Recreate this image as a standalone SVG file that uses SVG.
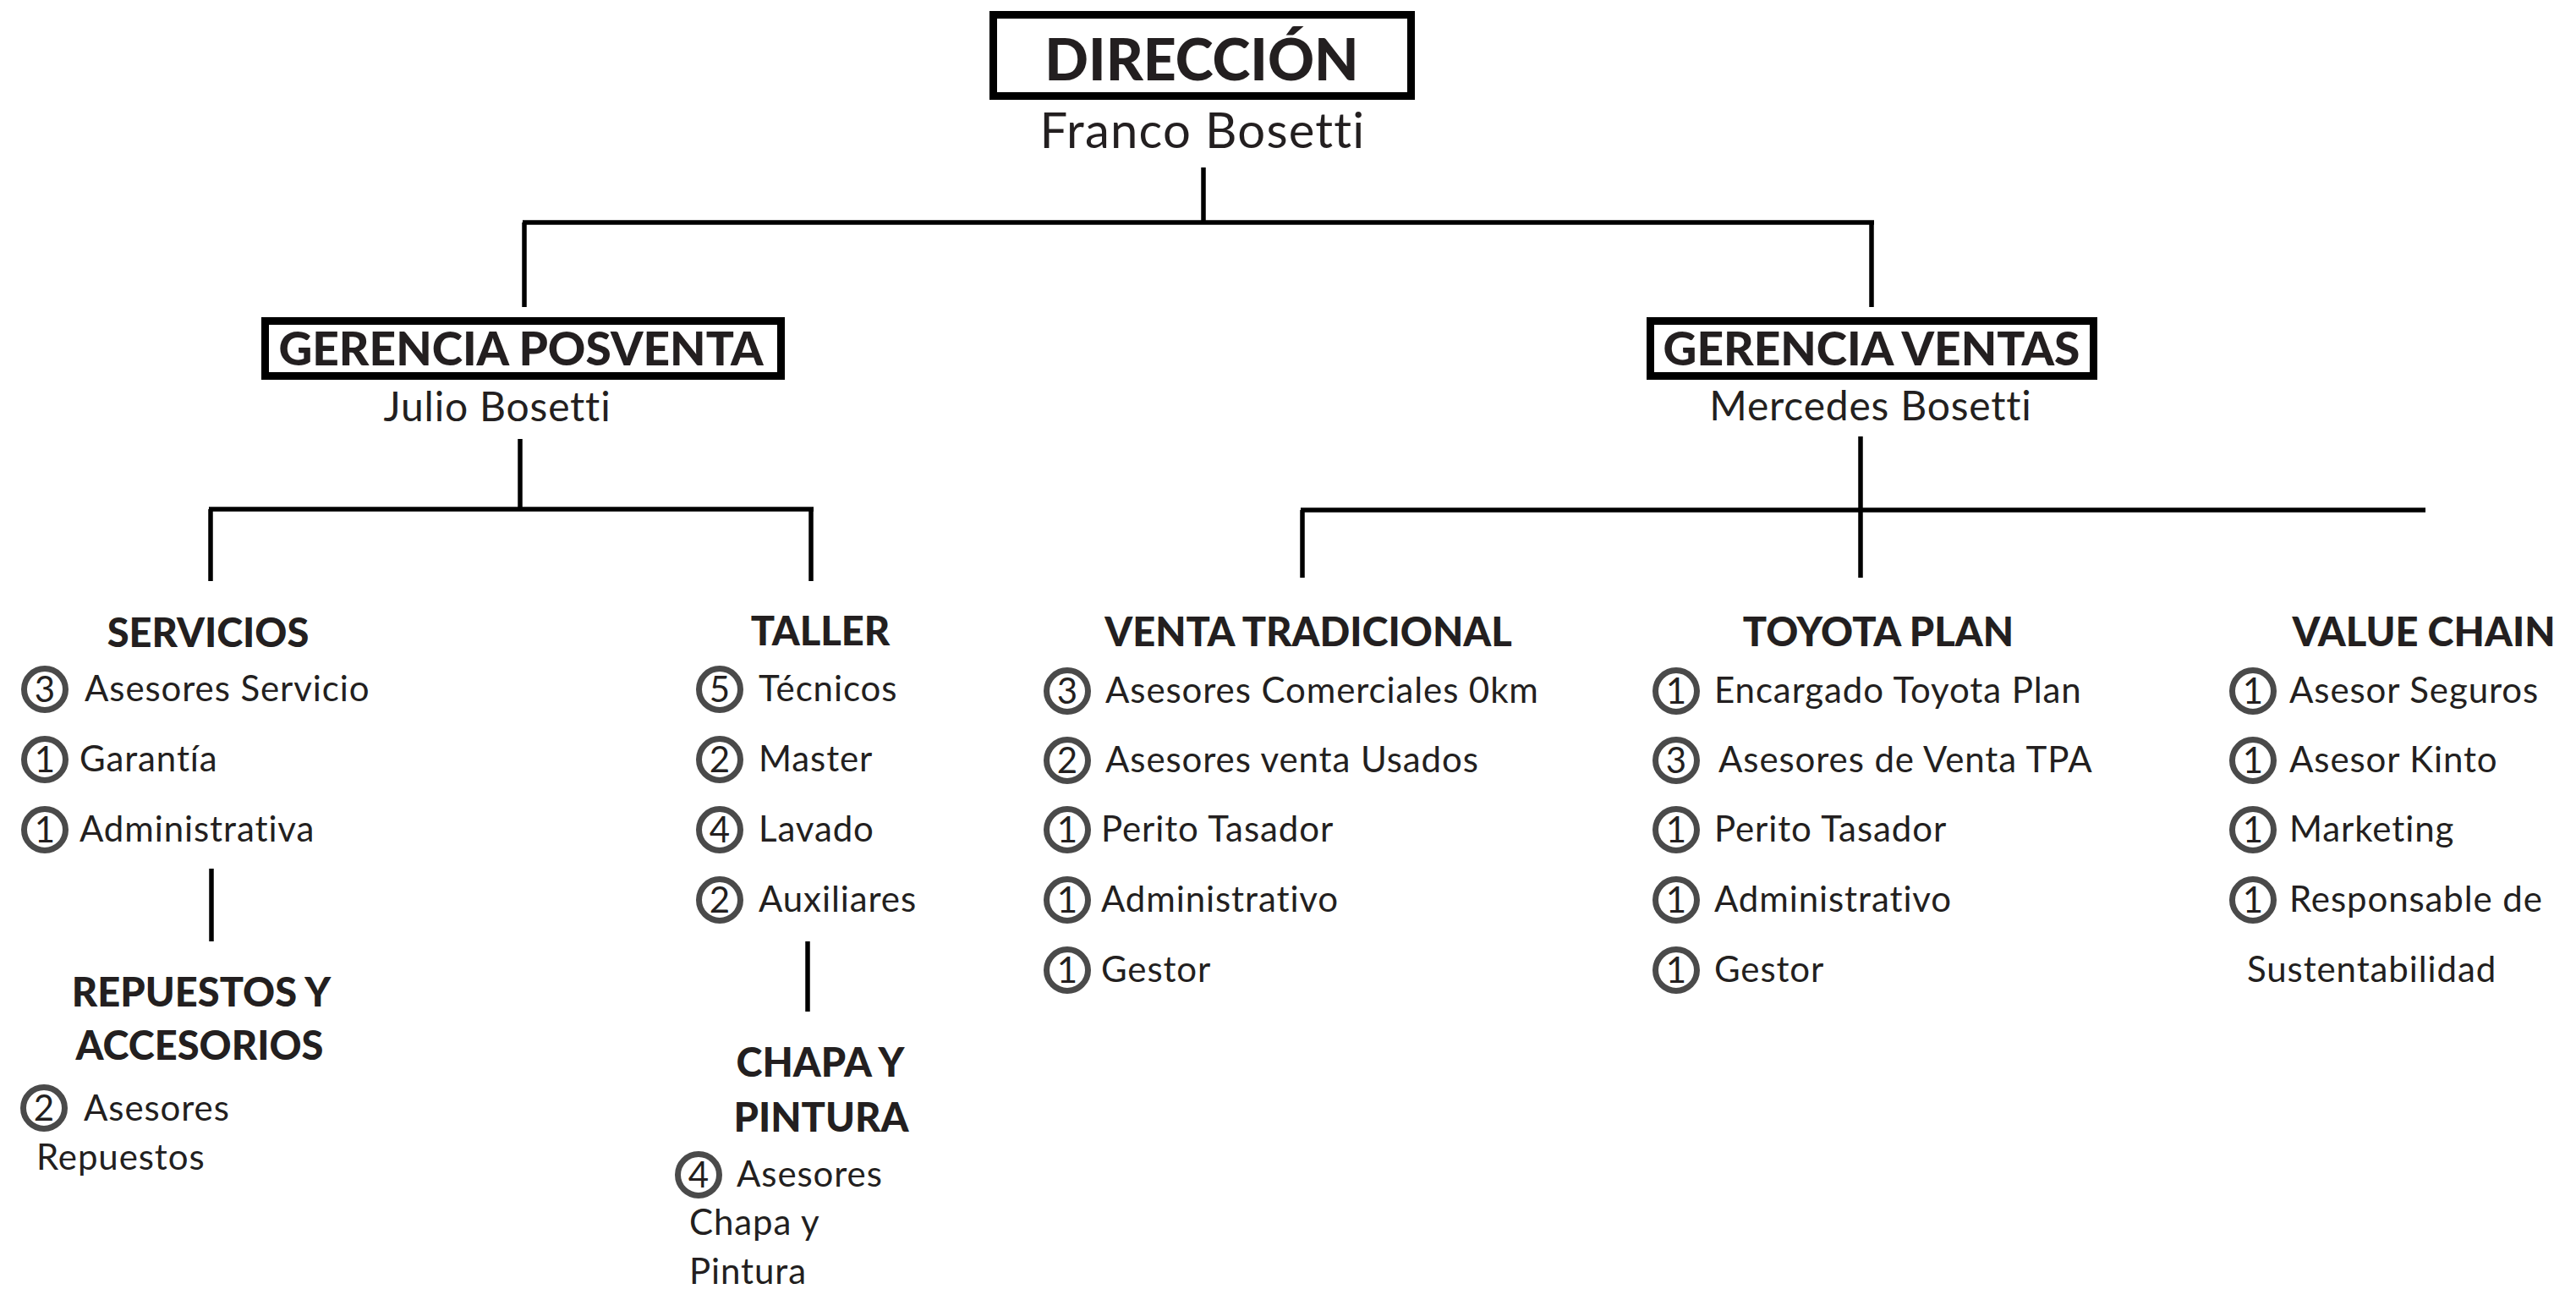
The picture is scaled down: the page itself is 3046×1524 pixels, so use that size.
<svg xmlns="http://www.w3.org/2000/svg" width="3046" height="1524" viewBox="0 0 3046 1524">
<style>
.bg{fill:#ffffff}
.box{fill:#ffffff;stroke:#000000;stroke-width:9}
text{font-variant-ligatures:none;font-feature-settings:"liga" 0,"clig" 0}
.h1{font-family:Lato,"Open Sans","Liberation Sans",sans-serif;font-weight:900;fill:#231f20;text-anchor:middle}
.nm{font-family:Lato,"Open Sans","Liberation Sans",sans-serif;font-weight:400;fill:#231f20;text-anchor:middle}
.hd{font-family:Lato,"Open Sans","Liberation Sans",sans-serif;font-weight:900;fill:#231f20;text-anchor:middle;font-size:47px}
.it{font-family:Lato,"Open Sans","Liberation Sans",sans-serif;font-weight:400;fill:#231f20;font-size:42px;letter-spacing:0.9px}
.num{font-family:Lato,"Open Sans","Liberation Sans",sans-serif;font-weight:400;fill:#231f20;font-size:42px;text-anchor:middle}
.cir{fill:none;stroke:#4a4a4a;stroke-width:7}
.ln{stroke:#000000;stroke-width:5.5;fill:none;stroke-linecap:butt}
</style>
<defs>
<circle id="c" r="24.5" class="cir"/>
</defs>
<rect class="bg" x="0" y="0" width="3046" height="1524"/>

<g id="connectors">
<line class="ln" x1="1423" y1="198" x2="1423" y2="263"/>
<line class="ln" x1="618" y1="263" x2="2216" y2="263"/>
<line class="ln" x1="620" y1="263" x2="620" y2="363"/>
<line class="ln" x1="2213" y1="263" x2="2213" y2="363"/>
<line class="ln" x1="615" y1="519" x2="615" y2="602"/>
<line class="ln" x1="247" y1="602" x2="962" y2="602"/>
<line class="ln" x1="249" y1="602" x2="249" y2="687"/>
<line class="ln" x1="959" y1="602" x2="959" y2="687"/>
<line class="ln" x1="250" y1="1027" x2="250" y2="1113"/>
<line class="ln" x1="955" y1="1113" x2="955" y2="1196"/>
<line class="ln" x1="2200" y1="516" x2="2200" y2="683"/>
<line class="ln" x1="1538" y1="603" x2="2868" y2="603"/>
<line class="ln" x1="1540" y1="603" x2="1540" y2="683"/>
</g>

<g id="direccion">
<rect class="box" x="1174.5" y="17.5" width="494" height="96"/>
<text class="h1" x="1421" y="95" font-size="68">DIRECCIÓN</text>
<text class="nm" x="1422" y="175" font-size="58" letter-spacing="1.2">Franco Bosetti</text>
</g>

<g id="gerencia-posventa">
<rect class="box" x="313.5" y="379.5" width="610" height="65"/>
<text class="h1" x="616" y="432" font-size="55">GERENCIA POSVENTA</text>
<text class="nm" x="588" y="498" font-size="48" letter-spacing="0.8">Julio Bosetti</text>
</g>

<g id="gerencia-ventas">
<rect class="box" x="1951.5" y="379.5" width="524" height="65"/>
<text class="h1" x="2213" y="432" font-size="55">GERENCIA VENTAS</text>
<text class="nm" x="2212" y="497" font-size="48" letter-spacing="0.8">Mercedes Bosetti</text>
</g>

<g id="servicios">
<text class="hd" x="246" y="765">SERVICIOS</text>
<use href="#c" x="53" y="815"/><text class="num" x="53" y="830">3</text>
<text class="it" x="100" y="829">Asesores Servicio</text>
<use href="#c" x="53" y="898"/><text class="num" x="53" y="913">1</text>
<text class="it" x="94" y="912">Garantía</text>
<use href="#c" x="53" y="981"/><text class="num" x="53" y="996">1</text>
<text class="it" x="94" y="995">Administrativa</text>
</g>

<g id="repuestos">
<text class="hd" x="238" y="1190">REPUESTOS Y</text>
<text class="hd" x="236" y="1253">ACCESORIOS</text>
<use href="#c" x="52" y="1310"/><text class="num" x="52" y="1325">2</text>
<text class="it" x="99" y="1325">Asesores</text>
<text class="it" x="43" y="1383">Repuestos</text>
</g>

<g id="taller">
<text class="hd" x="970" y="763">TALLER</text>
<use href="#c" x="851" y="815"/><text class="num" x="851" y="830">5</text>
<text class="it" x="897" y="829">Técnicos</text>
<use href="#c" x="851" y="898"/><text class="num" x="851" y="913">2</text>
<text class="it" x="897" y="912">Master</text>
<use href="#c" x="851" y="981"/><text class="num" x="851" y="996">4</text>
<text class="it" x="897" y="995">Lavado</text>
<use href="#c" x="851" y="1064"/><text class="num" x="851" y="1079">2</text>
<text class="it" x="897" y="1078">Auxiliares</text>
</g>

<g id="chapa">
<text class="hd" x="970" y="1273">CHAPA Y</text>
<text class="hd" x="971" y="1338">PINTURA</text>
<use href="#c" x="826" y="1389"/><text class="num" x="826" y="1404">4</text>
<text class="it" x="871" y="1403">Asesores</text>
<text class="it" x="815" y="1460">Chapa y</text>
<text class="it" x="815" y="1518">Pintura</text>
</g>

<g id="venta-tradicional">
<text class="hd" x="1547" y="764">VENTA TRADICIONAL</text>
<use href="#c" x="1262" y="817"/><text class="num" x="1262" y="832">3</text>
<text class="it" x="1307" y="831">Asesores Comerciales 0km</text>
<use href="#c" x="1262" y="899"/><text class="num" x="1262" y="914">2</text>
<text class="it" x="1307" y="913">Asesores venta Usados</text>
<use href="#c" x="1262" y="981"/><text class="num" x="1262" y="996">1</text>
<text class="it" x="1302" y="995">Perito Tasador</text>
<use href="#c" x="1262" y="1064"/><text class="num" x="1262" y="1079">1</text>
<text class="it" x="1302" y="1078">Administrativo</text>
<use href="#c" x="1262" y="1147"/><text class="num" x="1262" y="1162">1</text>
<text class="it" x="1302" y="1161">Gestor</text>
</g>

<g id="toyota-plan">
<text class="hd" x="2221" y="764">TOYOTA PLAN</text>
<use href="#c" x="1982" y="817"/><text class="num" x="1982" y="832">1</text>
<text class="it" x="2027" y="831">Encargado Toyota Plan</text>
<use href="#c" x="1982" y="899"/><text class="num" x="1982" y="914">3</text>
<text class="it" x="2032" y="913">Asesores de Venta TPA</text>
<use href="#c" x="1982" y="981"/><text class="num" x="1982" y="996">1</text>
<text class="it" x="2027" y="995">Perito Tasador</text>
<use href="#c" x="1982" y="1064"/><text class="num" x="1982" y="1079">1</text>
<text class="it" x="2027" y="1078">Administrativo</text>
<use href="#c" x="1982" y="1147"/><text class="num" x="1982" y="1162">1</text>
<text class="it" x="2027" y="1161">Gestor</text>
</g>

<g id="value-chain">
<text class="hd" x="2866" y="764">VALUE CHAIN</text>
<use href="#c" x="2664" y="817"/><text class="num" x="2664" y="832">1</text>
<text class="it" x="2707" y="831">Asesor Seguros</text>
<use href="#c" x="2664" y="899"/><text class="num" x="2664" y="914">1</text>
<text class="it" x="2707" y="913">Asesor Kinto</text>
<use href="#c" x="2664" y="981"/><text class="num" x="2664" y="996">1</text>
<text class="it" x="2707" y="995">Marketing</text>
<use href="#c" x="2664" y="1064"/><text class="num" x="2664" y="1079">1</text>
<text class="it" x="2707" y="1078">Responsable de</text>
<text class="it" x="2657" y="1161">Sustentabilidad</text>
</g>
</svg>
